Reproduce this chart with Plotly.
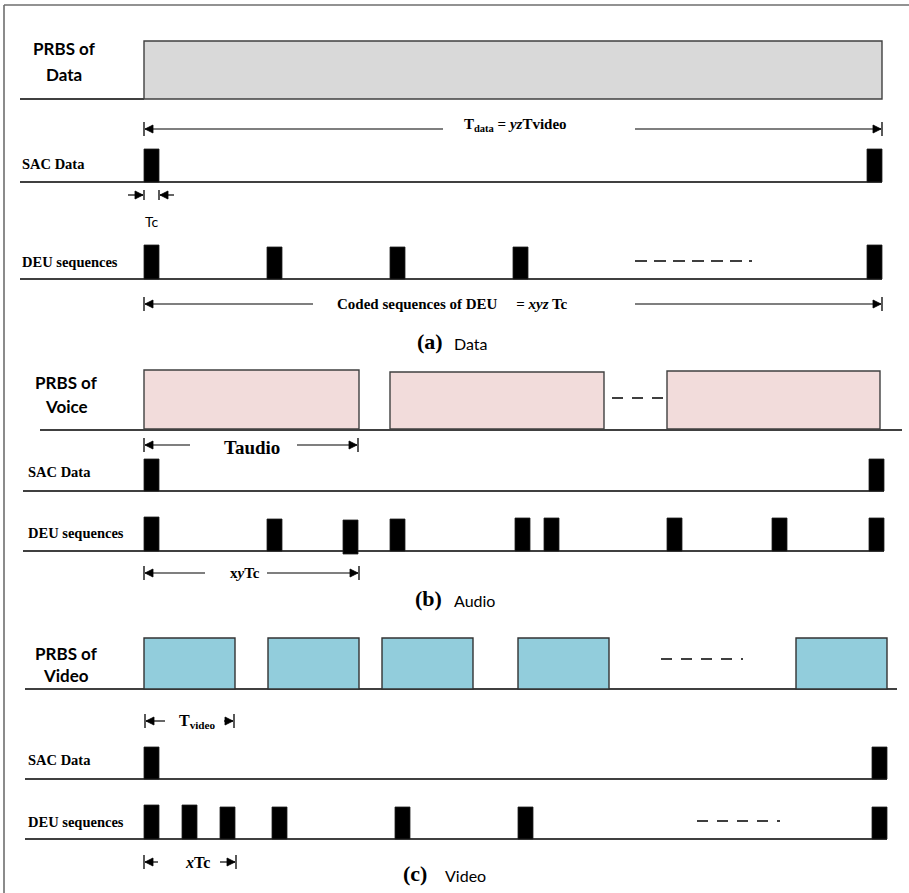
import plotly.graph_objects as go

# ---------------- data (pixel-time units of the timing diagram) ----------------
# Panel (a) Data
a_prbs_block = [144, 882]
a_sac_pulses = [144, 867]
a_deu_pulses = [144, 267, 390, 513, 867]
a_deu_tops = [245, 247, 247, 247, 245]

# Panel (b) Audio
b_prbs_blocks = [(144, 359, 370), (390, 604, 372), (667, 880, 371)]
b_sac_pulses = [144, 869]
b_deu_pulses = [144, 267, 343, 390, 515, 544, 667, 772, 869]
b_deu_tops = [517, 519, 520, 519, 518, 518, 518, 518, 518]
b_deu_bottoms = [551, 551, 554, 551, 551, 551, 551, 551, 551]

# Panel (c) Video
c_prbs_blocks = [(144, 235), (268, 359), (382, 473), (518, 609), (796, 887)]
c_sac_pulses = [144, 872]
c_deu_pulses = [144, 182, 220, 272, 395, 518, 872]
c_deu_tops = [805, 805, 807, 807, 807, 807, 807]

PULSE_W = 15

# ---------------- helpers ----------------
shapes = []
annots = []


def line(x0, y0, x1, y1, width=1.6, color="black", dash=None):
    d = dict(type="line", xref="x", yref="y", x0=x0, y0=y0, x1=x1, y1=y1,
             line=dict(color=color, width=width))
    if dash:
        d["line"]["dash"] = dash
    shapes.append(d)


def rect(x0, y0, x1, y1, fill, lc="#3a3a3a", lw=1.4):
    shapes.append(dict(type="rect", xref="x", yref="y", x0=x0, y0=y0, x1=x1, y1=y1,
                       fillcolor=fill, line=dict(color=lc, width=lw), layer="above"))


def pulse(x, top, bottom):
    shapes.append(dict(type="rect", xref="x", yref="y", x0=x, y0=top, x1=x + PULSE_W, y1=bottom,
                       fillcolor="black", line=dict(color="#202020", width=0.8), layer="above"))


def head(tip, y, direction):
    # direction: -1 arrow points left, +1 points right
    b = tip - direction * 8
    shapes.append(dict(type="path", xref="x", yref="y",
                       path=f"M {tip},{y} L {b},{y-4} L {b},{y+4} Z",
                       fillcolor="black", line=dict(color="black", width=0.8)))


def tick(x, y, half=7):
    line(x, y - half, x, y + half, width=1.3)


def text(x, y, t, size=13, family="Liberation Serif", xanchor="left", color="black"):
    annots.append(dict(x=x, y=y, xref="x", yref="y", text=t, showarrow=False,
                       xanchor=xanchor, yanchor="middle",
                       font=dict(family=family, size=size, color=color)))


def dim_left(x, y, x_end):
    tick(x, y)
    head(x + 1, y, -1)
    line(x + 1, y, x_end, y, width=1.2)


def dim_right(x_start, x, y):
    tick(x, y)
    head(x - 1, y, +1)
    line(x_start, y, x - 1, y, width=1.2)


SANS = "Lato"
SERIF = "Liberation Serif"
LBL = 14.5

# ---------------- frame ----------------
line(4, 5, 909, 5, width=1.6, color="#6e6e6e")
line(4, 5, 4, 893, width=1.6, color="#6e6e6e")

# ================= Panel (a) =================
text(64, 48, "<b>PRBS of</b>", size=17, family=SANS, xanchor="center")
text(64, 74, "<b>Data</b>", size=17, family=SANS, xanchor="center")
line(20, 99, a_prbs_block[0], 99)
rect(a_prbs_block[0], 41, a_prbs_block[1], 99, "#d9d9d9", lc="#404040")

dim_left(144, 129, 443)
text(462, 125, "<b>T<sub>data</sub> = <i>yz</i>Tvideo</b>", size=15, family=SERIF)
dim_right(635, 882, 129)

text(20, 164, "<b>SAC Data</b>", size=LBL, family=SERIF)
line(20, 182, 882, 182)
for x in a_sac_pulses:
    pulse(x, 149, 182)

# Tc dimension
line(128, 195, 143, 195, width=1.2)
head(143, 195, +1)
tick(144, 195, half=5)
line(160, 195, 174, 195, width=1.2)
head(160, 195, -1)
tick(159, 195, half=5)
text(152, 221, "Tc", size=14, family=SANS, xanchor="center")

text(20, 262, "<b>DEU sequences</b>", size=LBL, family=SERIF)
line(20, 279, 882, 279)
for x, t in zip(a_deu_pulses, a_deu_tops):
    pulse(x, t, 279)
line(635, 261, 752, 261, width=1.5, dash="12px,7px")

dim_left(144, 304, 313)
text(335, 304, "<b>Coded sequences of DEU&nbsp;&nbsp;&nbsp;&nbsp; = <i>xyz</i> Tc</b>",
     size=15, family=SERIF)
dim_right(635, 882, 304)

text(430, 341, "<b>(a)</b>", size=22, family=SERIF, xanchor="center")
text(452, 343, "Data", size=16, family=SANS)

# ================= Panel (b) =================
text(66, 382, "<b>PRBS of</b>", size=17, family=SANS, xanchor="center")
text(66, 406, "<b>Voice</b>", size=17, family=SANS, xanchor="center")
line(40, 430, 902, 430)
for x0, x1, top in b_prbs_blocks:
    rect(x0, top, x1, 429, "#f2dcdb", lc="#404040")
line(612, 398, 664, 398, width=1.5, dash="11px,9px")

dim_left(144, 445, 190)
text(252, 447, "<b>Taudio</b>", size=19, family=SERIF, xanchor="center")
dim_right(297, 358, 445)

text(26, 472, "<b>SAC Data</b>", size=LBL, family=SERIF)
line(23, 491, 884, 491)
for x in b_sac_pulses:
    pulse(x, 459, 491)

text(26, 533, "<b>DEU sequences</b>", size=LBL, family=SERIF)
line(23, 551, 884, 551)
for x, t, bt in zip(b_deu_pulses, b_deu_tops, b_deu_bottoms):
    pulse(x, t, bt)

dim_left(144, 573, 205)
text(245, 573, "<b>x<i>y</i>Tc</b>", size=15, family=SERIF, xanchor="center")
dim_right(267, 359, 573)

text(428, 598, "<b>(b)</b>", size=22, family=SERIF, xanchor="center")
text(452, 600, "Audio", size=16, family=SANS)

# ================= Panel (c) =================
text(66, 653, "<b>PRBS of</b>", size=17, family=SANS, xanchor="center")
text(66, 675, "<b>Video</b>", size=17, family=SANS, xanchor="center")
line(25, 689, 897, 689)
for x0, x1 in c_prbs_blocks:
    rect(x0, 638, x1, 689, "#92cddc", lc="#333333")
line(661, 659, 743, 659, width=1.5, dash="11px,9px")

dim_left(145, 721, 165)
text(177, 721, "<b>T<sub>video</sub></b>", size=16, family=SERIF)
dim_right(224, 234, 721)

text(26, 760, "<b>SAC Data</b>", size=LBL, family=SERIF)
line(25, 779, 887, 779)
for x in c_sac_pulses:
    pulse(x, 747, 779)

text(26, 822, "<b>DEU sequences</b>", size=LBL, family=SERIF)
line(25, 839, 887, 839)
for x, t in zip(c_deu_pulses, c_deu_tops):
    pulse(x, t, 839)
line(697, 821, 780, 821, width=1.5, dash="11px,9px")

dim_left(144, 862, 158)
text(197, 862, "<b><i>x</i>Tc</b>", size=16, family=SERIF, xanchor="center")
dim_right(220, 236, 862)

text(415, 873, "<b>(c)</b>", size=22, family=SERIF, xanchor="center")
text(443, 875, "Video", size=16, family=SANS)

# ---------------- figure ----------------
fig = go.Figure()
fig.update_layout(
    width=909, height=893,
    margin=dict(l=0, r=0, t=0, b=0),
    paper_bgcolor="white", plot_bgcolor="white",
    xaxis=dict(range=[0, 909], visible=False, fixedrange=True),
    yaxis=dict(range=[893, 0], visible=False, fixedrange=True),
    shapes=shapes, annotations=annots, showlegend=False,
)
fig.write_html("out.html")
